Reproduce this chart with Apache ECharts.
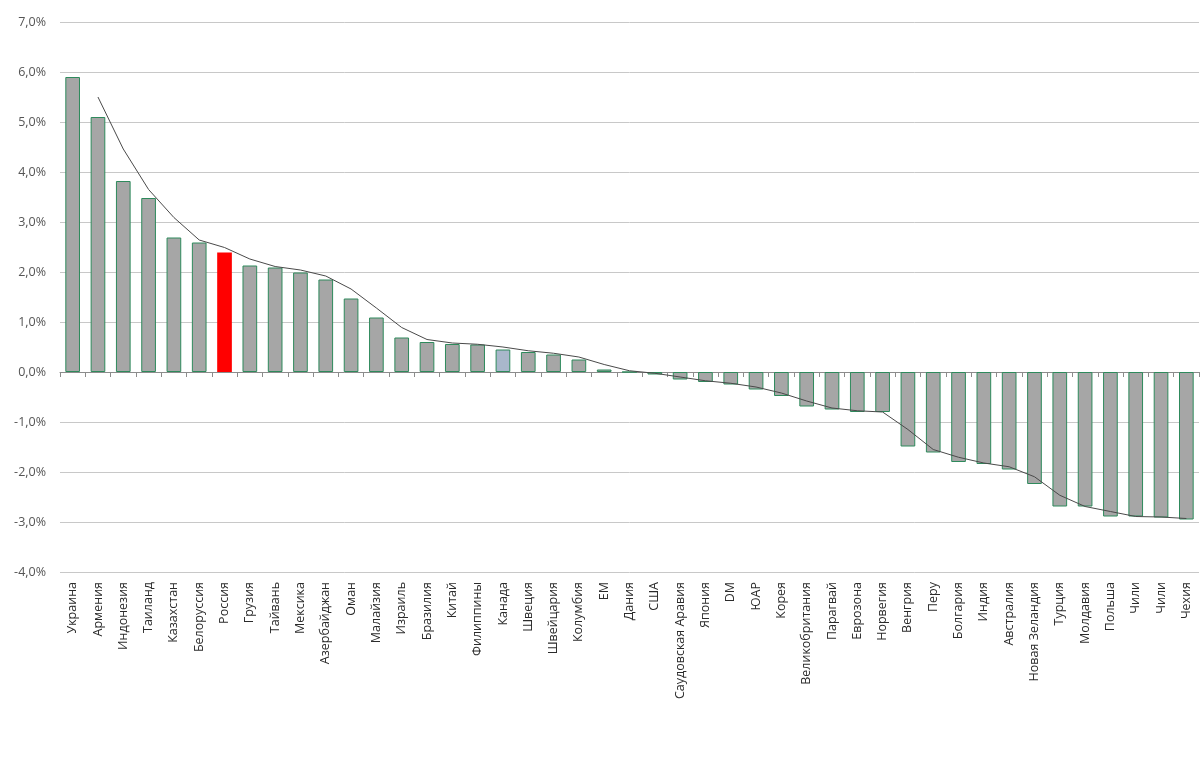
<!DOCTYPE html>
<html>
<head>
<meta charset="utf-8">
<script src="https://cdn.jsdelivr.net/npm/echarts@6/dist/echarts.min.js"></script>
<style>
html,body{margin:0;padding:0;background:#fff;}
#chart{width:1200px;height:759px;}
</style>
</head>
<body>
<div id="chart"></div>
<script>
const categories = ['Украина','Армения','Индонезия','Таиланд','Казахстан','Белоруссия','Россия','Грузия','Тайвань','Мексика','Азербайджан','Оман','Малайзия','Израиль','Бразилия','Китай','Филиппины','Канада','Швеция','Швейцария','Колумбия','EM','Дания','США','Саудовская Аравия','Япония','DM','ЮАР','Корея','Великобритания','Парагвай','Еврозона','Норвегия','Венгрия','Перу','Болгария','Индия','Австралия','Новая Зеландия','Турция','Молдавия','Польша','Чили','Чили','Чехия'];
const values = [5.9,5.1,3.82,3.48,2.69,2.59,2.39,2.13,2.09,1.99,1.85,1.47,1.09,0.69,0.6,0.56,0.55,0.45,0.4,0.35,0.25,0.05,0,-0.05,-0.15,-0.2,-0.25,-0.35,-0.48,-0.69,-0.75,-0.8,-0.8,-1.49,-1.61,-1.8,-1.84,-1.95,-2.24,-2.69,-2.69,-2.89,-2.89,-2.91,-2.95];
const trendValues = [null,5.5,4.46,3.65,3.09,2.64,2.49,2.26,2.11,2.04,1.92,1.66,1.28,0.89,0.65,0.58,0.555,0.5,0.425,0.375,0.3,0.15,0.025,-0.025,-0.1,-0.175,-0.225,-0.3,-0.42,-0.58,-0.72,-0.775,-0.8,-1.15,-1.55,-1.705,-1.82,-1.895,-2.095,-2.465,-2.69,-2.79,-2.89,-2.9,-2.93];
const yTicks = {min: -4, max: 7, interval: 1};
const highlightRed = 'Россия';
const highlightBlue = 'Канада';

const FONT = '"Open Sans", sans-serif';
const barData = values.map((v, i) => {
  const c = categories[i];
  if (c === highlightRed) return {value: v, itemStyle: {color: '#ff0000', borderWidth: 0}};
  if (c === highlightBlue) return {value: v, itemStyle: {color: '#a9b7cb'}};
  return v;
});

const chart = echarts.init(document.getElementById('chart'), null, {renderer: 'canvas'});
chart.setOption({
  backgroundColor: '#ffffff',
  animation: false,
  grid: {left: 60, right: 1, top: 22, bottom: 187, containLabel: false},
  xAxis: [
    {
      type: 'category', data: categories, position: 'bottom',
      axisLine: {show: true, onZero: true, lineStyle: {color: '#8c8c8c', width: 1}},
      axisTick: {show: true, interval: 0, length: 5, lineStyle: {color: '#8c8c8c'}},
      axisLabel: {show: false, interval: 0}, splitLine: {show: false}
    },
    {
      type: 'category', data: categories, position: 'bottom',
      axisLine: {show: false, onZero: false}, axisTick: {show: false},
      axisLabel: {show: true, interval: 0, rotate: 90, margin: 10, fontSize: 12.5, color: '#2b2b2b', fontFamily: FONT},
      splitLine: {show: false}
    }
  ],
  yAxis: {
    type: 'value', min: yTicks.min, max: yTicks.max, interval: yTicks.interval,
    axisLine: {show: false}, axisTick: {show: false},
    axisLabel: {margin: 14, fontSize: 12.5, color: '#555555', fontFamily: FONT,
      formatter: v => v.toFixed(1).replace('.', ',') + '%'},
    splitLine: {show: true, lineStyle: {color: '#c8c8c8', width: 1}}
  },
  series: [
    {
      type: 'bar', xAxisIndex: 0, data: barData, barWidth: '58%',
      itemStyle: {color: '#a6a6a6', borderColor: '#2e8a5c', borderWidth: 1}
    },
    {
      type: 'line', xAxisIndex: 0, data: trendValues, symbol: 'none', showSymbol: false,
      lineStyle: {color: '#4a4a4a', width: 1}, z: 5
    }
  ]
});
</script>
</body>
</html>
